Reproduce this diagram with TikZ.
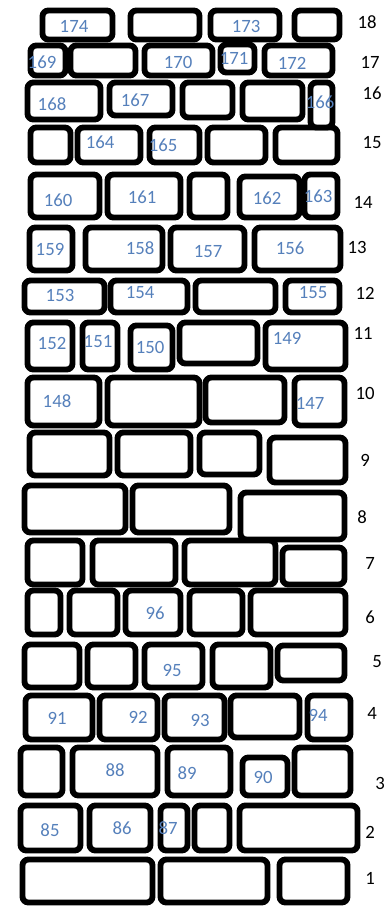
\documentclass[tikz,border=0pt]{standalone}
\usepackage{fontspec}
\setmainfont{Carlito}
\usepackage{xcolor}
\usepackage{tikz}
\definecolor{stoneBlue}{HTML}{5580BB}
\tikzset{
  stone/.style={draw=black, line width=5pt, rounded corners=5pt, fill=white},
  stonelab/.style={font=\fontsize{16}{18}\selectfont, text=stoneBlue, inner sep=0pt},
  rowlab/.style={font=\fontsize{16}{18}\selectfont, text=black, inner sep=0pt}
}

\begin{document}
\begin{tikzpicture}[x=0.03cm, y=-0.03cm]
\useasboundingbox (0,0) rectangle (390,908);

% stones, row by row from the top (x1/y1/x2/y2)
\foreach \a/\b/\c/\d in {
  40/8/115/42, 128/8/202/42, 208/8/282/42, 292/8/342/42,
  28/43/68/78, 68/43/138/78, 142/43/215/78, 218/42/257/75, 262/43/335/78,
  25/80/103/122, 107/80/175/118, 180/80/235/120, 240/80/305/122,
  28/125/73/165, 75/125/143/165, 147/125/202/165, 205/125/268/165, 273/125/340/165,
  308/80/335/130,
  28/172/102/220, 105/172/183/220, 187/172/230/220, 237/174/302/220, 302/172/340/220,
  27/225/75/273, 83/225/165/273, 168/225/247/273, 252/225/343/273,
  22/278/107/315, 108/278/190/315, 193/278/278/315, 283/278/342/315,
  25/320/75/372, 80/320/120/372, 128/323/175/372, 177/320/260/366, 263/320/348/372,
  25/375/102/428, 105/375/202/428, 203/375/287/425, 292/375/347/428,
  27/430/112/478, 115/430/193/478, 197/430/262/477, 267/435/348/485,
  22/483/128/535, 130/483/232/535, 238/490/347/542,
  25/538/85/587, 90/538/178/587, 182/538/278/587, 280/545/347/587,
  25/588/63/637, 67/588/120/637, 123/588/183/637, 187/588/245/637, 248/588/348/637,
  22/642/82/690, 85/642/138/690, 142/642/205/690, 210/642/273/690, 275/643/347/683,
  23/693/95/742, 97/693/160/742, 162/693/227/742, 228/693/302/740, 305/693/353/742,
  18/745/65/798, 70/745/160/798, 165/745/233/798, 240/755/290/798, 292/745/353/798,
  18/803/83/853, 87/803/153/853, 158/803/190/853, 192/803/232/853, 237/803/360/853,
  20/857/155/905, 158/857/270/905, 277/857/350/905}
  \draw[stone] ([shift={(2.5,2.5)}]\a,\b) rectangle ([shift={(-2.5,-2.5)}]\c,\d);

% stone numbers
\foreach \x/\y/\t in {
  74/26/174, 246/26/173,
  42/62/169, 178/62/170, 234/58/171, 292/63/172,
  52/104/168, 135/100/167, 320/102/166,
  100/142/164, 163/145/165,
  58/200/160, 142/197/161, 267/198/162, 318/196/163,
  50/249/159, 140/248/158, 208/252/157, 290/248/156,
  60/295/153, 140/293/154, 313/293/155,
  52/343/152, 98/342/151, 150/347/150, 287/338/149,
  57/401/148, 310/403/147,
  155/613/96, 172/670/95,
  57/718/91, 138/717/92, 200/720/93, 318/715/94,
  115/770/88, 187/773/89, 263/777/90,
  50/830/85, 122/828/86, 168/828/87}
  \node[stonelab] (s\t) at (\x,\y) {\t};

% row numbers
\foreach \x/\y/\r in {
  367/22/18, 370/62/17, 372/93/16, 372/143/15, 363/202/14, 357/247/13,
  365/293/12, 363/333/11, 365/393/10, 365/460/9, 362/517/8, 370/563/7,
  370/617/6, 377/662/5, 372/713/4, 380/783/3, 370/832/2, 370/878/1}
  \node[rowlab] (r\r) at (\x,\y) {\r};
\end{tikzpicture}
\end{document}
